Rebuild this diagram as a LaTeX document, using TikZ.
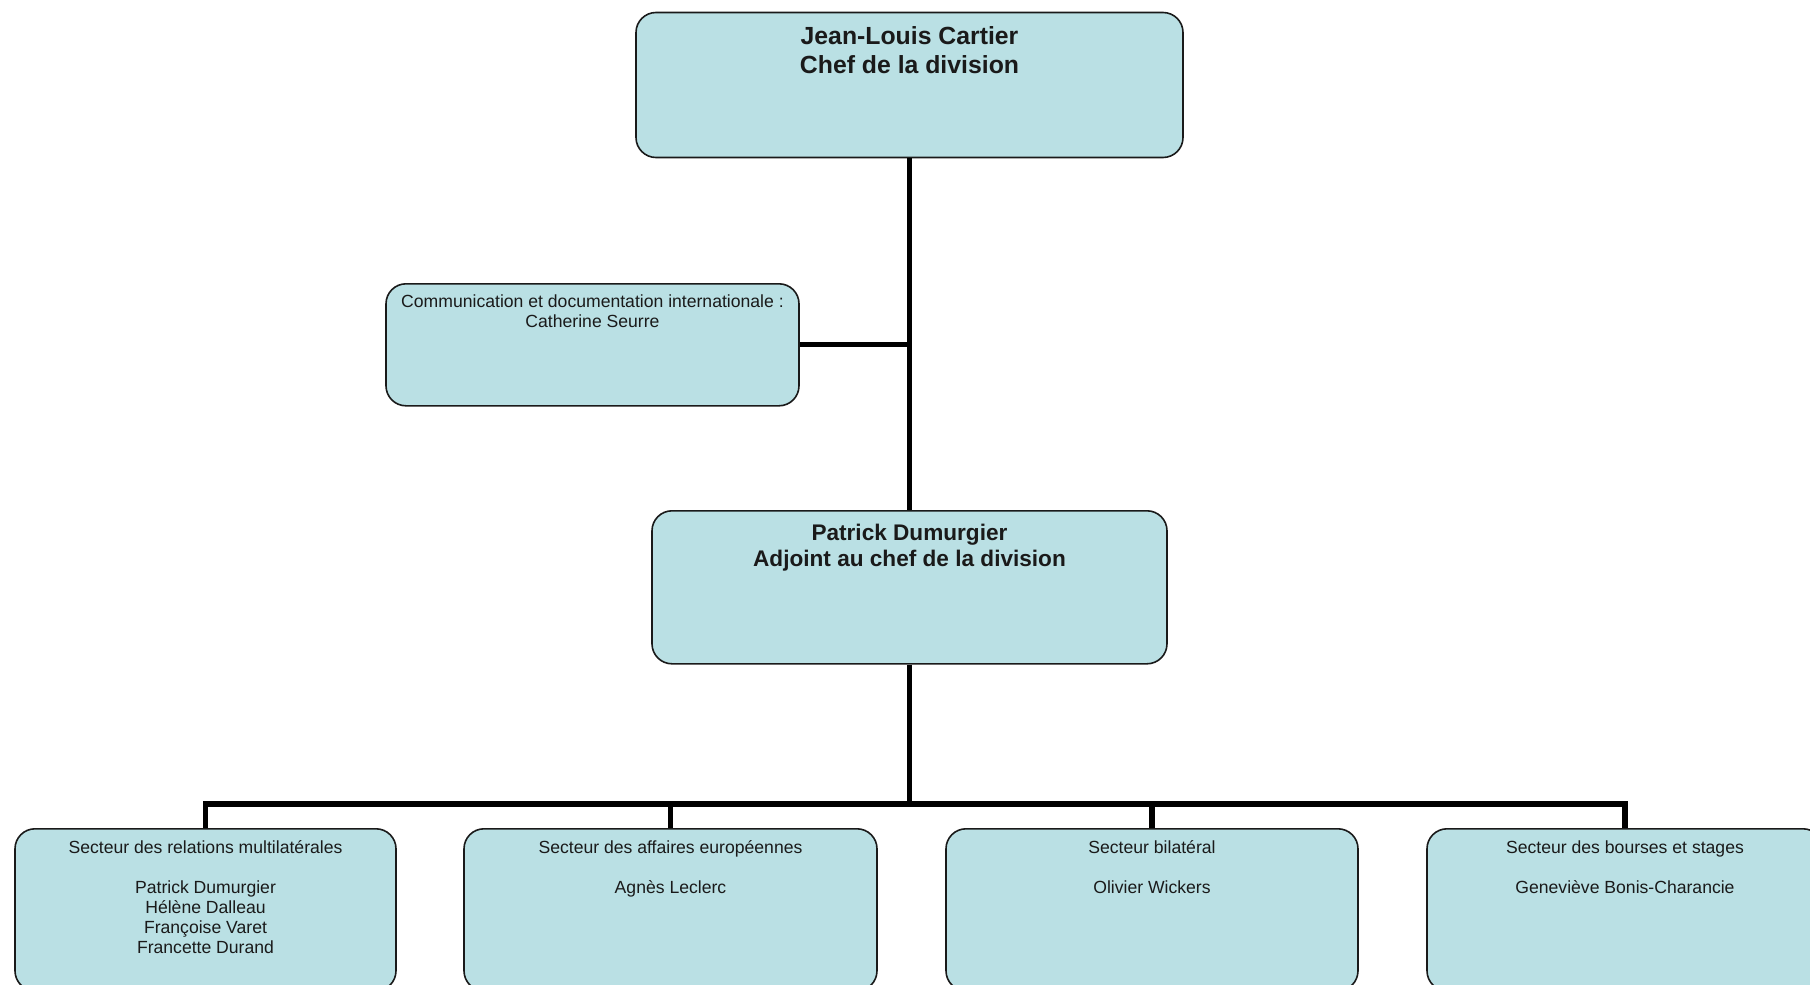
\documentclass[tikz,border=0pt]{standalone}
\usepackage{fontspec}
\setmainfont{Liberation Sans}
\usetikzlibrary{positioning}
\definecolor{boxfill}{HTML}{BAE0E4}
\definecolor{boxline}{HTML}{1A1A1A}

\begin{document}
\begin{tikzpicture}[x=0.5pt,y=-0.5pt,
  unit/.style={draw=boxline,fill=boxfill,rounded corners=10pt,line width=0.8pt,
    align=center,anchor=north,inner xsep=0pt,inner ysep=0pt,text=boxline},
  head/.style={unit,font=\fontsize{12.4}{14.3}\selectfont\bfseries},
  sub/.style={unit,font=\fontsize{11.3}{13}\selectfont\bfseries},
  small/.style={unit,font=\fontsize{8.8}{10}\selectfont},
  sect/.style={small,text height=32.5pt,text depth=48.5pt},
  link/.style={line width=2.6pt,draw=black}]
\clip (0,0) rectangle (1810,985);
\node[head,minimum width=273.5pt,text height=30.45pt,text depth=42.05pt] (chef) at (909.5,11.7) {Jean-Louis Cartier\\Chef de la division};
\node[small,minimum width=206.5pt,text height=21.85pt,text depth=39.15pt] (comm) at (592.5,283) {Communication et documentation internationale :\\Catherine Seurre};
\node[sub,minimum width=257.5pt,text height=28pt,text depth=48.5pt] (adjoint) at (909.5,510) {Patrick Dumurgier\\Adjoint au chef de la division};
\node[sect,minimum width=190.5pt,text height=62.5pt,text depth=18.5pt] (sect1) at (205.5,828) {Secteur des relations multilatérales\\[10pt]Patrick Dumurgier\\Hélène Dalleau\\Françoise Varet\\Francette Durand};
\node[sect,minimum width=206.5pt] (sect2) at (670.5,828) {Secteur des affaires européennes\\[10pt]Agnès Leclerc};
\node[sect,minimum width=206pt] (sect3) at (1152,828) {Secteur bilatéral\\[10pt]Olivier Wickers};
\node[sect,minimum width=198pt] (sect4) at (1625,828) {Secteur des bourses et stages\\[10pt]Geneviève Bonis-Charancie};
\coordinate (bus) at (909.5,804);
\draw[link] (chef) -- (adjoint);
\draw[link] (comm) -- (comm -| chef);
\draw[link] (adjoint) -- (bus);
\foreach \s in {sect1,sect2,sect3,sect4} \draw[link] (bus) -| (\s);
\end{tikzpicture}
\end{document}
